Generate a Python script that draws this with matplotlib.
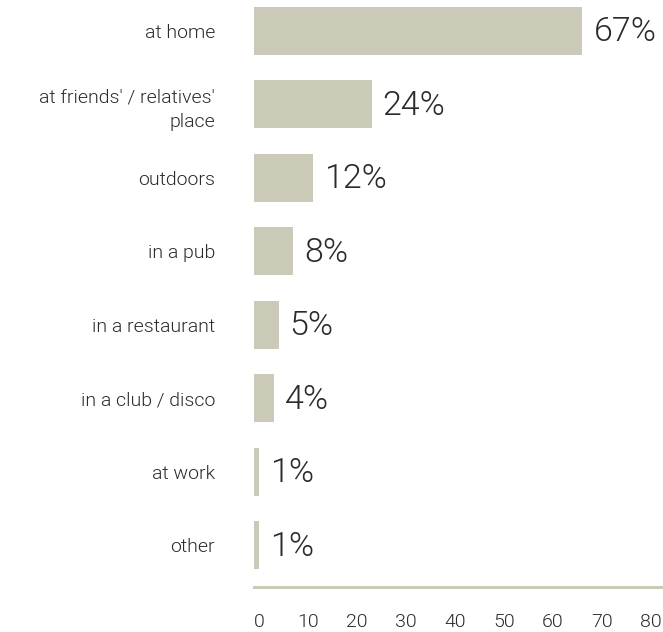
import matplotlib
matplotlib.use("Agg")
import matplotlib.pyplot as plt
import matplotlib.transforms as mtransforms

categories = ["at home", "at friends' / relatives'\nplace", "outdoors", "in a pub",
              "in a restaurant", "in a club / disco", "at work", "other"]
values = [67, 24, 12, 8, 5, 4, 1, 1]
xticks = [0, 10, 20, 30, 40, 50, 60, 70, 80]

BAR = "#cbc9b7"
TXT = "#2b2b2b"

plt.rcParams['font.family'] = ['Roboto', 'DejaVu Sans']

fig = plt.figure(figsize=(6.63, 6.32), dpi=100)
ax = fig.add_axes([254/663, 45/632, 409/663, 587/632])

y = list(range(len(categories)))
ax.barh(y, values, height=0.655, color=BAR, left=0)
ax.set_xlim(0, 409/4.9)
ax.set_ylim(7.57, -0.418)

for yi, v in zip(y, values):
    ax.annotate(f"{v}%", (v, yi), xytext=(8, -1), textcoords="offset points",
                va="center", ha="left", fontsize=24.5, color=TXT, fontweight=300)

ax.set_yticks(y)
ax.set_yticklabels(categories, fontsize=14, color=TXT, linespacing=1.5, fontweight=300)
ax.tick_params(axis="y", length=0, pad=28)
for lab in ax.get_yticklabels():
    lab.set_horizontalalignment("right")

ax.set_xticks(xticks)
ax.set_xticklabels([str(t) for t in xticks], fontsize=14, color=TXT, fontweight=300)
ax.tick_params(axis="x", length=0, pad=19)
offset = mtransforms.ScaledTranslation(5/100, 0, fig.dpi_scale_trans)
for lab in ax.get_xticklabels():
    lab.set_transform(lab.get_transform() + offset)

for s in ["top", "right", "left"]:
    ax.spines[s].set_visible(False)
ax.spines["bottom"].set_color(BAR)
ax.spines["bottom"].set_linewidth(2.2)

fig.savefig("out.png", dpi=100)
